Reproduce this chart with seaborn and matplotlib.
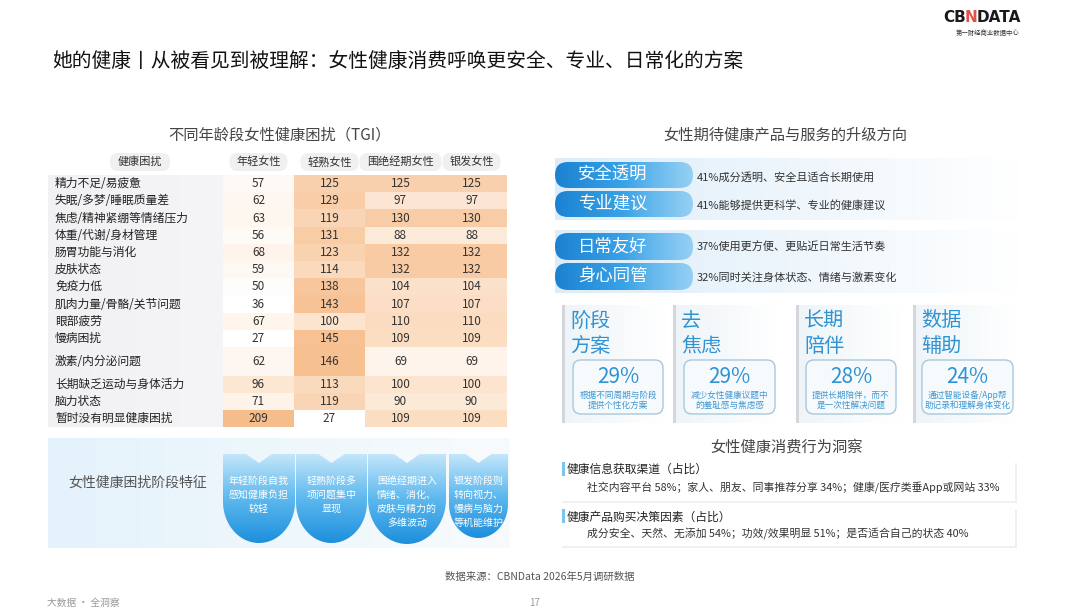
import numpy as np
import pandas as pd
import matplotlib
matplotlib.use("Agg")
import matplotlib.pyplot as plt
import matplotlib.transforms as mtransforms
from matplotlib.colors import LinearSegmentedColormap
from matplotlib.patches import FancyBboxPatch, Rectangle, PathPatch
from matplotlib.path import Path
import seaborn as sns

# ---------------- data ----------------
concerns = ["精力不足/易疲惫", "失眠/多梦/睡眠质量差", "焦虑/精神紧绷等情绪压力", "体重/代谢/身材管理",
            "肠胃功能与消化", "皮肤状态", "免疫力低", "肌肉力量/骨骼/关节问题", "眼部疲劳", "慢病困扰",
            "激素/内分泌问题", "长期缺乏运动与身体活力", "脑力状态", "暂时没有明显健康困扰"]
age_groups = ["年轻女性", "轻熟女性", "围绝经期女性", "银发女性"]
tgi_young = [57, 62, 63, 56, 68, 59, 50, 36, 67, 27, 62, 96, 71, 209]
tgi_mature = [125, 129, 119, 131, 123, 114, 138, 143, 100, 145, 146, 113, 119, 27]
tgi_peri = [125, 97, 130, 88, 132, 132, 104, 107, 110, 109, 69, 100, 90, 109]
tgi_silver = [125, 97, 130, 88, 132, 132, 104, 107, 110, 109, 69, 100, 90, 109]

stage_notes = ["年轻阶段自我\n感知健康负担\n较轻", "轻熟阶段多\n项问题集中\n显现",
               "围绝经期进入\n情绪、消化、\n皮肤与精力的\n多维波动", "银发阶段则\n转向视力、\n慢病与脑力\n等机能维护"]

upgrade_tags = ["安全透明", "专业建议", "日常友好", "身心同管"]
upgrade_texts = ["41%成分透明、安全且适合长期使用", "41%能够提供更科学、专业的健康建议",
                 "37%使用更方便、更贴近日常生活节奏", "32%同时关注身体状态、情绪与激素变化"]

card_titles = ["阶段\n方案", "去\n焦虑", "长期\n陪伴", "数据\n辅助"]
card_pcts = ["29%", "29%", "28%", "24%"]
card_descs = ["根据不同周期与阶段\n提供个性化方案", "减少女性健康议题中\n的羞耻感与焦虑感",
              "提供长期陪伴，而不\n是一次性解决问题", "通过智能设备/App帮\n助记录和理解身体变化"]

insight_heads = ["健康信息获取渠道（占比）", "健康产品购买决策因素（占比）"]
insight_texts = ["社交内容平台 58%；家人、朋友、同事推荐分享 34%；健康/医疗类垂App或网站 33%",
                 "成分安全、天然、无添加 54%；功效/效果明显 51%；是否适合自己的状态 40%"]

# ---------------- style ----------------
sns.set_theme(style="white")
plt.rcParams['font.family'] = ['Noto Sans CJK SC', 'DejaVu Sans']

W, H = 1080, 615
fig = plt.figure(figsize=(W / 100, H / 100), dpi=100)
fig.patch.set_facecolor("white")
bg = fig.add_axes([0, 0, 1, 1])
bg.set_xlim(0, W)
bg.set_ylim(H, 0)
bg.axis("off")


def frect(x0, y0, x1, y1):
    return [x0 / W, 1 - y1 / H, (x1 - x0) / W, (y1 - y0) / H]


def grad_fill(patch, colors, x0, x1, y0, y1, horizontal=False, zorder=1):
    patch.set_facecolor("none")
    patch.set_edgecolor("none")
    patch.set_zorder(zorder)
    bg.add_patch(patch)
    cm = LinearSegmentedColormap.from_list("g", colors)
    arr = np.linspace(0, 1, 256)
    arr = arr.reshape(1, -1) if horizontal else arr.reshape(-1, 1)
    im = bg.imshow(arr, cmap=cm, extent=(x0, x1, y1, y0), aspect="auto",
                   interpolation="bilinear", zorder=zorder)
    im.set_clip_path(patch)


def mtext(x, y, s, step, **kw):
    lines = s.split("\n")
    for i, ln in enumerate(lines):
        bg.text(x, y + i * step, ln, **kw)


# ---------------- header ----------------
bg.text(52, 62, "她的健康丨从被看见到被理解：女性健康消费呼唤更安全、专业、日常化的方案",
        fontsize=14.2, color="#111111", va="center", ha="left", fontweight="medium")
bg.text(943, 18, "CB", fontsize=11, fontweight="bold", color="#1a1a1a", ha="left", va="center",
        family=["DejaVu Sans"])
t_n = bg.text(965, 18, "N", fontsize=11, fontweight="bold", color="#e0524a", ha="left", va="center",
              family=["DejaVu Sans"])
bg.text(977, 18, "DATA", fontsize=11, fontweight="bold", color="#1a1a1a", ha="left", va="center",
        family=["DejaVu Sans"])
bg.text(988, 33, "第一财经商业数据中心", fontsize=4.6, color="#333333", ha="center", va="center")

# ---------------- left: TGI table ----------------
bg.text(280, 135, "不同年龄段女性健康困扰（TGI）", fontsize=11, color="#444444", ha="center", va="center")

col_x0, col_w = 223, 71
col_centers = [col_x0 + (j + 0.5) * col_w for j in range(4)]
# header pills
bg.add_patch(FancyBboxPatch((110, 153), 60, 18, boxstyle="round,pad=0,rounding_size=8",
                            fc="#f0f0f1", ec="none", zorder=1))
bg.text(140, 162, "健康困扰", fontsize=8, color="#333333", ha="center", va="center", zorder=2)
for cx, name in zip(col_centers, age_groups):
    wdt = 12 * len(name) + 10
    bg.add_patch(FancyBboxPatch((cx - wdt / 2, 153), wdt, 18, boxstyle="round,pad=0,rounding_size=8",
                                fc="#f0f0f1", ec="none", zorder=1))
    bg.text(cx, 162, name, fontsize=8, color="#333333", ha="center", va="center", zorder=2)

# label column background
grad_fill(Rectangle((48, 175), 175, 252), ["#f1f1f3", "#f5f5f7"], 48, 223, 175, 427, horizontal=True, zorder=1)

df = pd.DataFrame({age_groups[0]: tgi_young, age_groups[1]: tgi_mature,
                   age_groups[2]: tgi_peri, age_groups[3]: tgi_silver}, index=concerns)
cmap = LinearSegmentedColormap.from_list("tgi", ["#ffffff", "#fce6d2", "#f6bd8c"])
blocks = [(0, 10, 175, 347), (10, 11, 347, 376), (11, 14, 376, 427)]
for r0, r1, y0, y1 in blocks:
    ax = fig.add_axes(frect(col_x0, y0, col_x0 + 4 * col_w, y1))
    sns.heatmap(df.iloc[r0:r1], ax=ax, cmap=cmap, vmin=45, vmax=150, cbar=False, annot=True, fmt="d",
                xticklabels=False, yticklabels=False, linewidths=0,
                annot_kws={"color": "#333333", "fontsize": 8.5})
    ax.set_xlabel("")
    ax.set_ylabel("")
    tr = mtransforms.blended_transform_factory(bg.transData, ax.transData)
    for i, lab in enumerate(df.index[r0:r1]):
        ax.text(55, i + 0.5, lab, transform=tr, fontsize=8.5, color="#222222",
                ha="left", va="center", clip_on=False)

# stage feature box
grad_fill(Rectangle((48, 438), 462, 110), ["#e4f2fb", "#eef7fc", "#f8fbfd"], 48, 510, 438, 548,
          horizontal=True, zorder=1)
bg.text(68, 483, "女性健康困扰阶段特征", fontsize=10, color="#555555", ha="left", va="center", zorder=3)

shape_bounds = [(223, 295, 454, 543), (296, 367, 454, 543), (368, 446, 454, 544), (449, 508, 454, 538)]
for (x0, x1, yt, yb), note in zip(shape_bounds, stage_notes):
    xc = (x0 + x1) / 2
    r = (x1 - x0) / 2
    ry = min(1.15 * r, 0.62 * (yb - yt))
    ym = yb - ry
    pts = [(x0, yt), (xc - 13, yt), (xc, yt + 9), (xc + 13, yt), (x1, yt), (x1, ym)]
    th = np.linspace(0, np.pi, 50)
    pts += list(zip(xc + r * np.cos(th), ym + ry * np.sin(th)))
    pts.append((x0, yt))
    codes = [Path.MOVETO] + [Path.LINETO] * (len(pts) - 2) + [Path.CLOSEPOLY]
    patch = PathPatch(Path(pts, codes))
    grad_fill(patch, ["#c4e6fa", "#5db8ee", "#1d8fdc"], x0, x1, yt, yb, zorder=2)
    mtext(xc, 481, note, 14, fontsize=7.2, color="white", ha="center", va="center", zorder=4)

# ---------------- right: upgrades ----------------
bg.text(785, 135, "女性期待健康产品与服务的升级方向", fontsize=11, color="#444444", ha="center", va="center")

for (y0, y1) in [(158, 220), (230, 293)]:
    grad_fill(Rectangle((555, y0), 465, y1 - y0), ["#dcedf9", "#eef6fc", "#ffffff"], 555, 1020, y0, y1,
              horizontal=True, zorder=1)

pill_y = [(162, 188), (191, 217), (233, 260), (263, 290)]
text_y = [177, 205, 247, 277]
for (y0, y1), tag, txt, ty in zip(pill_y, upgrade_tags, upgrade_texts, text_y):
    p = FancyBboxPatch((555, y0), 138, y1 - y0, boxstyle="round,pad=0,rounding_size=13")
    grad_fill(p, ["#1b82d2", "#3aa2e6", (0.45, 0.76, 0.95, 0.7)], 555, 693, y0, y1, horizontal=True, zorder=2)
    bg.text(613, (y0 + y1) / 2, tag, fontsize=12.5, color="white", ha="center", va="center", zorder=4)
    bg.text(697, ty, txt, fontsize=8, color="#333333", ha="left", va="center", zorder=4)

card_lines = [562, 673, 796, 913]
card_boxes = [(573, 663), (684, 775), (806, 896), (922, 1013)]
for lx, (bx0, bx1), title, pct, desc in zip(card_lines, card_boxes, card_titles, card_pcts, card_descs):
    grad_fill(Rectangle((lx, 305), 105, 118), ["#eef4f8", "#ffffff"], lx, lx + 105, 305, 423,
              horizontal=True, zorder=1)
    bg.add_patch(Rectangle((lx, 305), 3, 118, fc="#d3d7db", ec="none", zorder=2))
    mtext(lx + 8, 321, title, 26, fontsize=14.5, color="#2e93d3", ha="left", va="center", zorder=3)
    bg.add_patch(FancyBboxPatch((bx0, 360), bx1 - bx0, 54, boxstyle="round,pad=0,rounding_size=8",
                                fc="#f6fafd", ec="#a8c8dc", lw=1, zorder=2))
    bxc = (bx0 + bx1) / 2
    bg.text(bxc, 377, pct, fontsize=15, color="#2e93d3", ha="center", va="center", fontweight="light",
            zorder=3)
    mtext(bxc, 395, desc, 10, fontsize=6.2, color="#3f97d1", ha="center", va="center", zorder=3)

# ---------------- right: insights ----------------
bg.text(787, 447, "女性健康消费行为洞察", fontsize=11, color="#444444", ha="center", va="center")
for (y0, y1), head, txt, hy, ty in zip([(461, 501), (508, 546)], insight_heads, insight_texts,
                                       [469, 517], [488, 534]):
    bg.add_patch(Rectangle((562, y0 + 2), 455, y1 - y0, fc="#eef0f2", ec="none", zorder=1))
    bg.add_patch(Rectangle((560, y0), 455, y1 - y0, fc="white", ec="none", zorder=1))
    bg.add_patch(Rectangle((562, y0 + 1), 2.5, 14, fc="#7cc3ee", ec="none", zorder=2))
    bg.text(567, hy, head, fontsize=8.5, color="#222222", ha="left", va="center", zorder=3,
            fontweight="medium")
    bg.text(587, ty, txt, fontsize=7.8, color="#333333", ha="left", va="center", zorder=3)

# ---------------- footer ----------------
bg.text(540, 577, "数据来源：CBNData 2026年5月调研数据", fontsize=7.5, color="#555555", ha="center", va="center")
bg.text(47, 603, "大数据 · 全洞察", fontsize=7, color="#999999", ha="left", va="center")
bg.text(535, 603, "17", fontsize=7, color="#999999", ha="center", va="center")

bg.set_xlim(0, W)
bg.set_ylim(H, 0)
fig.savefig("out.png", dpi=100, facecolor="white")
